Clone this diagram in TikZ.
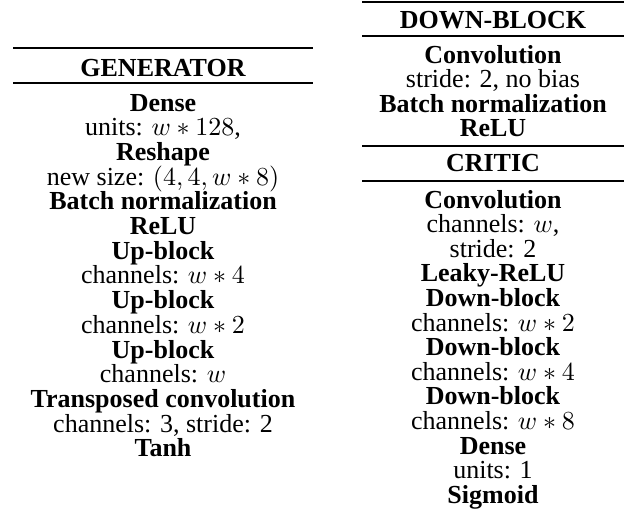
\documentclass[tikz,border=0pt]{standalone}
\usepackage{fontspec}
\setmainfont{Liberation Serif}
\begin{document}
\begin{tikzpicture}[x=0.384615pt,y=-0.384615pt,
  txt/.style={inner sep=0pt,outer sep=0pt,anchor=base,font=\fontsize{10}{12}\selectfont},
  hd/.style={txt,font=\fontsize{10}{12}\selectfont\bfseries},
  rl/.style={line width=0.77pt}]
\useasboundingbox (0,0) rectangle (630,513);
\def\pl{24.7}
\def\pr{24.6}
% ---------- GENERATOR ----------
\coordinate (g1l) at (13,48);  \coordinate (g1r) at (313,48);
\coordinate (g2l) at (13,83);  \coordinate (g2r) at (313,83);
\draw[rl] (g1l) -- (g1r);
\draw[rl] (g2l) -- (g2r);
\node[hd] (gen) at (163,76) {GENERATOR};
\node[hd]  (g0)  at (163,111+0*\pl)  {Dense};
\node[txt] (g1)  at (163,111+1*\pl)  {units: $w*128$,};
\node[hd]  (g2)  at (163,111+2*\pl)  {Reshape};
\node[txt] (g3)  at (163,111+3*\pl)  {new size: $(4,4,w*8)$};
\node[hd]  (g4)  at (163,111+4*\pl)  {Batch normalization};
\node[hd]  (g5)  at (163,111+5*\pl)  {ReLU};
\node[hd]  (g6)  at (163,111+6*\pl)  {Up-block};
\node[txt] (g7)  at (163,111+7*\pl)  {channels: $w*4$};
\node[hd]  (g8)  at (163,111+8*\pl)  {Up-block};
\node[txt] (g9)  at (163,111+9*\pl)  {channels: $w*2$};
\node[hd]  (g10) at (163,111+10*\pl) {Up-block};
\node[txt] (g11) at (163,111+11*\pl) {channels: $w$};
\node[hd]  (g12) at (163,111+12*\pl) {Transposed convolution};
\node[txt] (g13) at (163,111+13*\pl) {channels: 3, stride: 2};
\node[hd]  (g14) at (163,111+14*\pl) {Tanh};
% ---------- DOWN-BLOCK ----------
\coordinate (d0l) at (362,2);   \coordinate (d0r) at (624,2);
\coordinate (d1l) at (362,36);  \coordinate (d1r) at (624,36);
\coordinate (d2l) at (362,146); \coordinate (d2r) at (624,146);
\coordinate (d3l) at (362,181); \coordinate (d3r) at (624,181);
\draw[rl] (d0l) -- (d0r);
\draw[rl] (d1l) -- (d1r);
\draw[rl] (d2l) -- (d2r);
\draw[rl] (d3l) -- (d3r);
\node[hd] (down) at (493,28) {DOWN-BLOCK};
\node[hd]  (b0) at (493,63+0*\pr) {Convolution};
\node[txt] (b1) at (493,63+1*\pr) {stride: 2, no bias};
\node[hd]  (b2) at (493,63+2*\pr) {Batch normalization};
\node[hd]  (b3) at (493,63+3*\pr) {ReLU};
% ---------- CRITIC ----------
\node[hd] (crit) at (493,171) {CRITIC};
\node[hd]  (c0)  at (493,208+0*\pr)  {Convolution};
\node[txt] (c1)  at (493,208+1*\pr)  {channels: $w$,};
\node[txt] (c2)  at (493,208+2*\pr)  {stride: 2};
\node[hd]  (c3)  at (493,208+3*\pr)  {Leaky-ReLU};
\node[hd]  (c4)  at (493,208+4*\pr)  {Down-block};
\node[txt] (c5)  at (493,208+5*\pr)  {channels: $w*2$};
\node[hd]  (c6)  at (493,208+6*\pr)  {Down-block};
\node[txt] (c7)  at (493,208+7*\pr)  {channels: $w*4$};
\node[hd]  (c8)  at (493,208+8*\pr)  {Down-block};
\node[txt] (c9)  at (493,208+9*\pr)  {channels: $w*8$};
\node[hd]  (c10) at (493,208+10*\pr) {Dense};
\node[txt] (c11) at (493,208+11*\pr) {units: 1};
\node[hd]  (c12) at (493,208+12*\pr) {Sigmoid};
\end{tikzpicture}
\end{document}
